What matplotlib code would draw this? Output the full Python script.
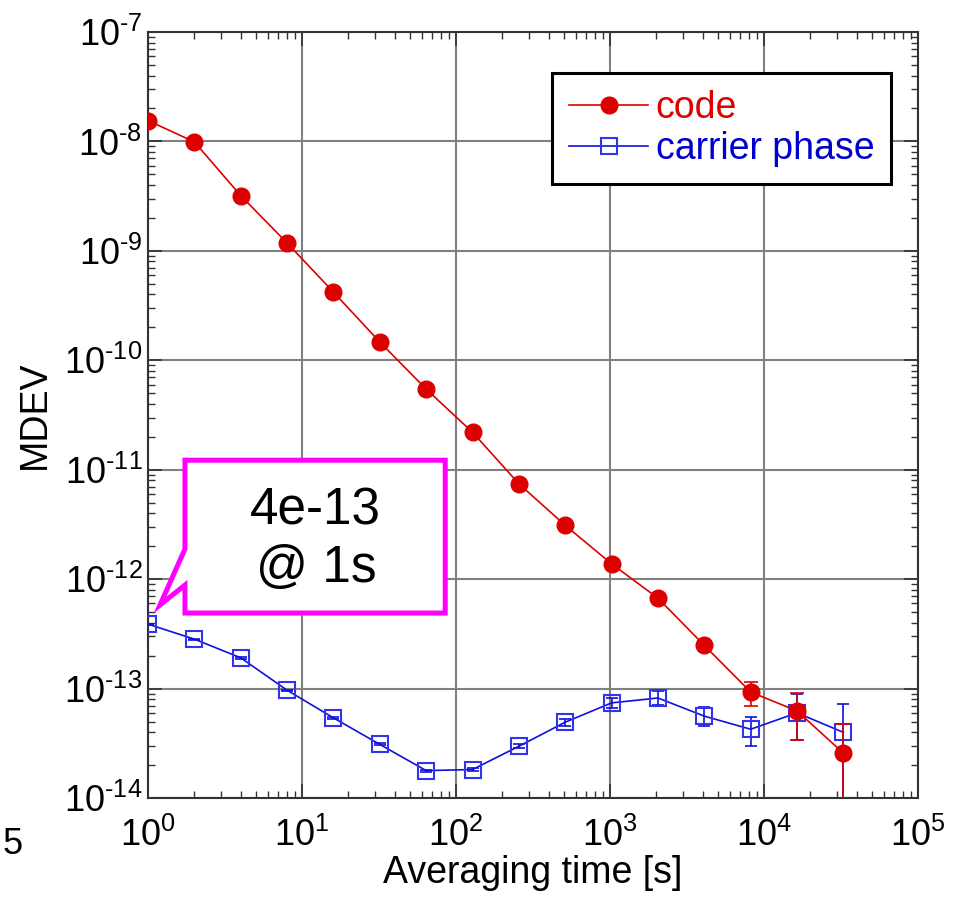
import numpy as np
import matplotlib
matplotlib.use("Agg")
from matplotlib import pyplot as plt
from matplotlib.patches import Polygon
from matplotlib.ticker import LogLocator, NullFormatter, FuncFormatter

plt.rcParams['font.family'] = ['Liberation Sans', 'DejaVu Sans']
plt.rcParams['mathtext.fontset'] = 'custom'
plt.rcParams['mathtext.rm'] = 'Liberation Sans'
plt.rcParams['axes.unicode_minus'] = False

# averaging times [s]
tau = [1, 2, 4, 8, 16, 32, 64, 128, 256, 512, 1024, 2048, 4096, 8192, 16384, 32768]

# code MDEV and error bar limits
code = [1.55e-8, 9.9e-9, 3.2e-9, 1.18e-9, 4.2e-10, 1.47e-10, 5.45e-11, 2.2e-11,
        7.44e-12, 3.10e-12, 1.38e-12, 6.7e-13, 2.48e-13, 9.3e-14, 6.25e-14, 2.57e-14]
code_lo = [1.52e-8, 9.7e-9, 3.13e-9, 1.15e-9, 4.1e-10, 1.43e-10, 5.3e-11, 2.13e-11,
           7.2e-12, 2.98e-12, 1.32e-12, 6.35e-13, 2.3e-13, 6.9e-14, 3.4e-14, 5e-15]
code_hi = [1.58e-8, 1.01e-8, 3.27e-9, 1.21e-9, 4.3e-10, 1.51e-10, 5.6e-11, 2.27e-11,
           7.7e-12, 3.22e-12, 1.44e-12, 7.05e-13, 2.66e-13, 1.15e-13, 9.1e-14, 4.7e-14]

# carrier phase MDEV and error bar limits
carrier = [3.88e-13, 2.83e-13, 1.91e-13, 9.66e-14, 5.4e-14, 3.09e-14, 1.78e-14, 1.82e-14,
           2.97e-14, 4.93e-14, 7.4e-14, 8.2e-14, 5.6e-14, 4.25e-14, 6.0e-14, 3.98e-14]
carrier_lo = [3.84e-13, 2.80e-13, 1.88e-13, 9.5e-14, 5.3e-14, 3.03e-14, 1.74e-14, 1.77e-14,
              2.85e-14, 4.55e-14, 6.6e-14, 7.1e-14, 4.55e-14, 3.0e-14, 3.4e-14, 5e-15]
carrier_hi = [3.92e-13, 2.86e-13, 1.94e-13, 9.8e-14, 5.5e-14, 3.15e-14, 1.82e-14, 1.87e-14,
              3.1e-14, 5.3e-14, 8.2e-14, 9.5e-14, 6.8e-14, 5.5e-14, 9.0e-14, 7.2e-14]

red = '#dd0000'
blue = '#1010dd'

def dec_label(v, pos):
    e = int(round(np.log10(v)))
    return r'$\mathdefault{10^{\text{%d}}}$' % e

fig = plt.figure(figsize=(9.63, 8.98), dpi=100)
ax = fig.add_axes([148/963, 1-798/898, 770/963, 766/898])

tau = np.array(tau)
c = np.array(code); p = np.array(carrier)
ax.errorbar(tau, p, yerr=[p-np.array(carrier_lo), np.array(carrier_hi)-p], fmt='none',
            ecolor=blue, elinewidth=1.2, capsize=4, capthick=1.2, zorder=3)
hp, = ax.plot(tau, p, '-s', color=blue, lw=1.2, ms=11.5, mfc='none', mec='#3333ee',
              mew=1.5, label='carrier phase', zorder=4)
ax.errorbar(tau, c, yerr=[c-np.array(code_lo), np.array(code_hi)-c], fmt='none',
            ecolor=red, elinewidth=1.2, capsize=5, capthick=1.2, zorder=5)
hc, = ax.plot(tau, c, '-o', color=red, lw=1.2, ms=12, mec=red, label='code', zorder=6)

ax.set_xscale('log')
ax.set_yscale('log')
ax.set_xlim(1, 1e5)
ax.set_ylim(1e-14, 1e-7)
for a in (ax.xaxis, ax.yaxis):
    a.set_major_locator(LogLocator(base=10, numticks=20))
    a.set_major_formatter(FuncFormatter(dec_label))
    a.set_minor_locator(LogLocator(base=10, subs=np.arange(2, 10), numticks=100))
    a.set_minor_formatter(NullFormatter())
ax.grid(True, which='major', color='#808080', lw=1.5)
ax.tick_params(which='both', direction='in', top=True, right=True, colors='#333333',
               labelcolor='black', labelsize=26)
ax.tick_params(which='major', length=10, width=1.2)
ax.tick_params(which='minor', length=5, width=1)
ax.tick_params(axis='x', pad=14)
ax.tick_params(axis='y', pad=4)
for s in ax.spines.values():
    s.set_color('#333333')
    s.set_linewidth(1.5)

ax.set_xlabel('Averaging time [s]', fontsize=27, labelpad=1)
ax.set_ylabel('MDEV', fontsize=27, labelpad=8)

leg = ax.legend(handles=[hc, hp], loc='upper right', bbox_to_anchor=(0.965, 0.9465),
                borderaxespad=0, fontsize=27, fancybox=False, framealpha=1,
                handlelength=2.1, handletextpad=0.2, labelspacing=0.15,
                borderpad=0.45)
leg.get_frame().set_edgecolor('black')
leg.get_frame().set_linewidth(2.2)
for t, col in zip(leg.get_texts(), [red, '#0000cc']):
    t.set_color(col)

# callout
callout = Polygon([(0.048, 0.441), (0.386, 0.441), (0.386, 0.2415), (0.048, 0.2415),
                   (0.048, 0.278), (0.0156, 0.252), (0.048, 0.325)], closed=True,
                  transform=ax.transAxes, facecolor='white', edgecolor='#ff00ff',
                  lw=3.6, joinstyle='miter', zorder=10, clip_on=False)
ax.add_patch(callout)
ax.text(0.217, 0.375, '4e-13', transform=ax.transAxes, fontsize=37, ha='center',
        va='center', zorder=11)
ax.text(0.218, 0.299, '@ 1s', transform=ax.transAxes, fontsize=37, ha='center',
        va='center', zorder=11)

fig.text(13/963, 1-845/898, '5', fontsize=26, ha='center', va='center')

fig.savefig('out.png', dpi=100)
